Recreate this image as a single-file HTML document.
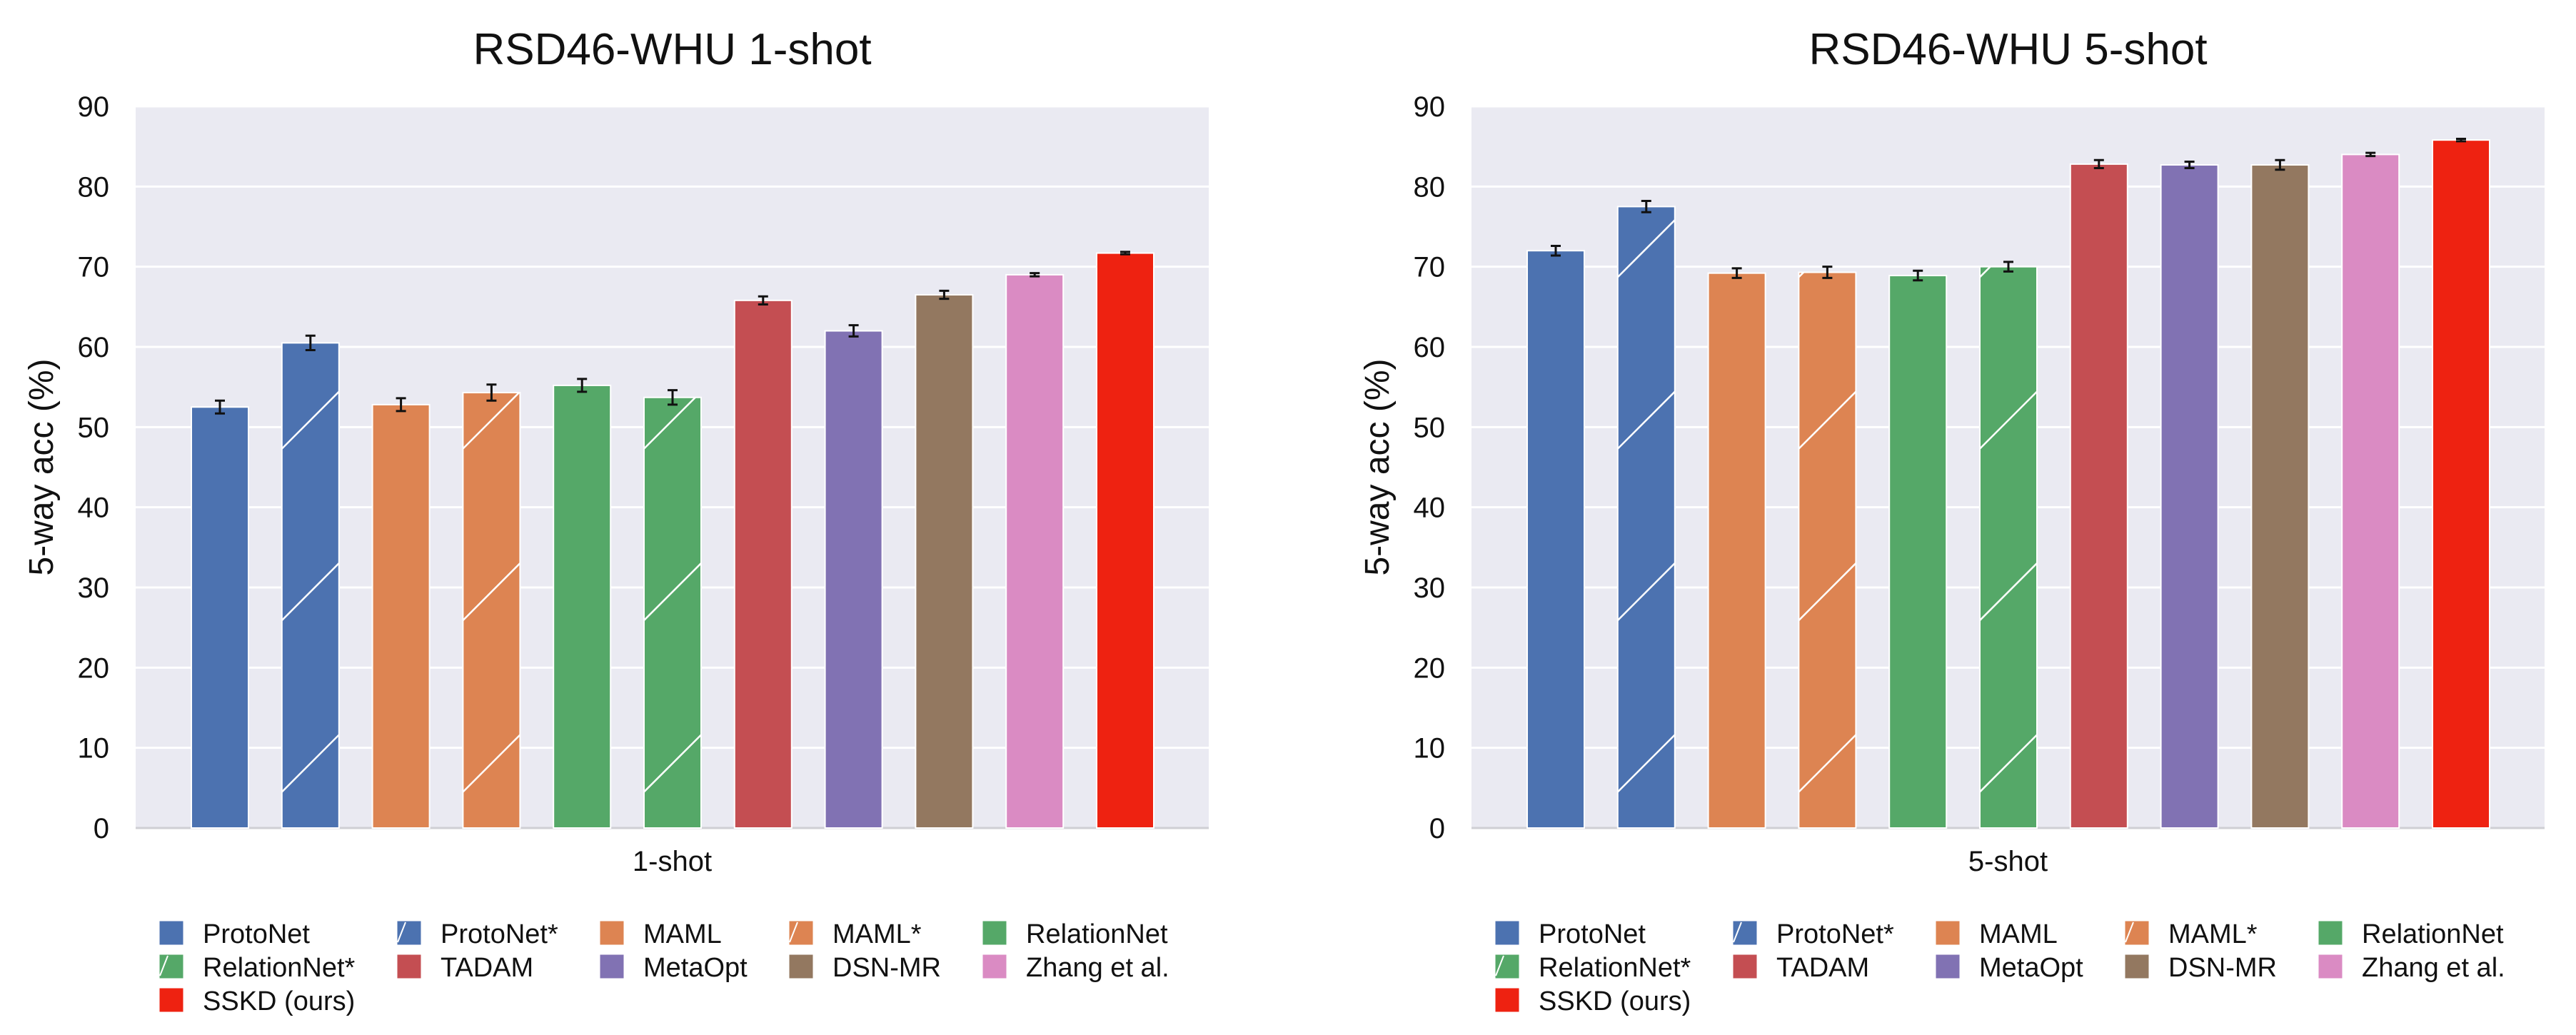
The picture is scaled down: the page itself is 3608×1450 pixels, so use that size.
<!DOCTYPE html>
<html><head><meta charset="utf-8">
<style>
body{margin:0;background:#fff;}
svg{display:block;font-family:"Liberation Sans",sans-serif;}
</style></head>
<body>
<svg id="fig" width="3608" height="1450" viewBox="0 0 3608 1450" xmlns="http://www.w3.org/2000/svg"></svg>
<script>
const methods = ["ProtoNet","ProtoNet*","MAML","MAML*","RelationNet","RelationNet*","TADAM","MetaOpt","DSN-MR","Zhang et al.","SSKD (ours)"];
const colors = ["#4c72b0","#4c72b0","#dd8452","#dd8452","#55a868","#55a868","#c44e52","#8172b3","#937860","#da8bc3","#ee2211"];
const hatched = [false,true,false,true,false,true,false,false,false,false,false];
const oneShotValues = [52.5,60.5,52.8,54.3,55.2,53.7,65.8,62.0,66.5,69.0,71.7];
const oneShotErrors = [0.8,0.9,0.8,1.0,0.8,0.9,0.5,0.7,0.5,0.2,0.15];
const fiveShotValues = [72.0,77.5,69.2,69.3,68.9,70.0,82.8,82.7,82.7,84.0,85.8];
const fiveShotErrors = [0.6,0.7,0.6,0.7,0.6,0.6,0.5,0.4,0.6,0.2,0.15];
const yTicks = [0,10,20,30,40,50,60,70,80,90];

const NS = "http://www.w3.org/2000/svg";
const fig = document.getElementById('fig');
function mk(tag, attrs, parent){
  const e = document.createElementNS(NS, tag);
  for (const k in attrs) e.setAttribute(k, attrs[k]);
  (parent||fig).appendChild(e);
  return e;
}

function drawChart(ox, title, xlabel, values, errors, key){
  const left = ox, right = ox + 1503, top = 149, bottom = 1160;
  const yScale = v => bottom - (v/90)*(bottom-top);
  const xCenter = i => left + 118 + 126.8*i;
  const bw = 80;
  const g = mk('g', {});
  
  
  const bg = mk('rect', {x:left, y:top, width:right-left, height:bottom-top, fill:'#eaeaf2'}, g);
  
  
  yTicks.forEach(t => {
    const y = yScale(t);
    const gl = mk('line', {x1:left, x2:right, y1:y, y2:y, stroke:'#fff', 'stroke-width':3}, g);
    
    
    const tl = mk('text', {x:left-37, y:y+14, 'text-anchor':'end', 'font-size':40, fill:'#111'}, g);
    tl.textContent = t;
    
    
  });
  const axl = mk('line', {x1:left, x2:right, y1:bottom, y2:bottom, stroke:'#cfcfd4', 'stroke-width':3}, g);
  
  
  values.forEach((v, i) => {
    const cx = xCenter(i), x0 = cx - bw/2, yt = yScale(v);
    const r = mk('rect', {x:x0, y:yt, width:bw, height:bottom-yt, fill:colors[i], stroke:'#fff', 'stroke-width':2}, g);
    
    
    if (hatched[i]) {
      const cid = key + 'clip' + i;
      const cp = mk('clipPath', {id:cid}, g);
      mk('rect', {x:x0, y:yt, width:bw, height:bottom-yt}, cp);
      for (let k = 0; k < 6; k++) {
        const yl = yScale(4.5 + 21.4*k);
        if (yl < yt) break;
        const h = mk('line', {x1:x0, y1:yl, x2:x0+bw, y2:yl-bw, stroke:'#fff', 'stroke-width':2.5, 'clip-path':'url(#'+cid+')'}, g);
        
        
      }
    }
    const e = errors[i];
    const y1 = yScale(v + e), y2 = yScale(v - e);
    const eb = mk('path', {d:`M${cx} ${y1}V${y2}M${cx-7} ${y1}H${cx+7}M${cx-7} ${y2}H${cx+7}`, stroke:'#111', 'stroke-width':3, fill:'none'}, g);
    
    
  });
  const tt = mk('text', {x:(left+right)/2, y:90, 'text-anchor':'middle', 'font-size':62, fill:'#111'}, g);
  tt.textContent = title;
  
  
  const xl = mk('text', {x:(left+right)/2, y:1220, 'text-anchor':'middle', 'font-size':40, fill:'#111'}, g);
  xl.textContent = xlabel;
  
  
  const yl = mk('text', {x:0, y:0, 'text-anchor':'middle', 'font-size':48, fill:'#111', transform:`translate(${left-116},${(top+bottom)/2}) rotate(-90)`}, g);
  yl.textContent = '5-way acc (%)';
  
  
  const colX = [33, 366, 650, 915, 1186];
  const rowY = [1290, 1337, 1384];
  methods.forEach((m, i) => {
    const col = i % 5, row = Math.floor(i/5);
    const sx = left + colX[col], sy = rowY[row];
    const lg = mk('g', {}, g);
    
    
    mk('rect', {x:sx, y:sy, width:34, height:34, fill:colors[i], stroke:'#fff', 'stroke-width':1}, lg);
    if (hatched[i]) mk('line', {x1:sx+1, y1:sy+30, x2:sx+12, y2:sy+2, stroke:'#fff', 'stroke-width':2}, lg);
    const lt = mk('text', {x:sx+61, y:sy+31, 'font-size':38, fill:'#111'}, lg);
    lt.textContent = m;
  });
}
drawChart(190, 'RSD46-WHU 1-shot', '1-shot', oneShotValues, oneShotErrors, 'one-shot');
drawChart(2061, 'RSD46-WHU 5-shot', '5-shot', fiveShotValues, fiveShotErrors, 'five-shot');
</script>
</body></html>
